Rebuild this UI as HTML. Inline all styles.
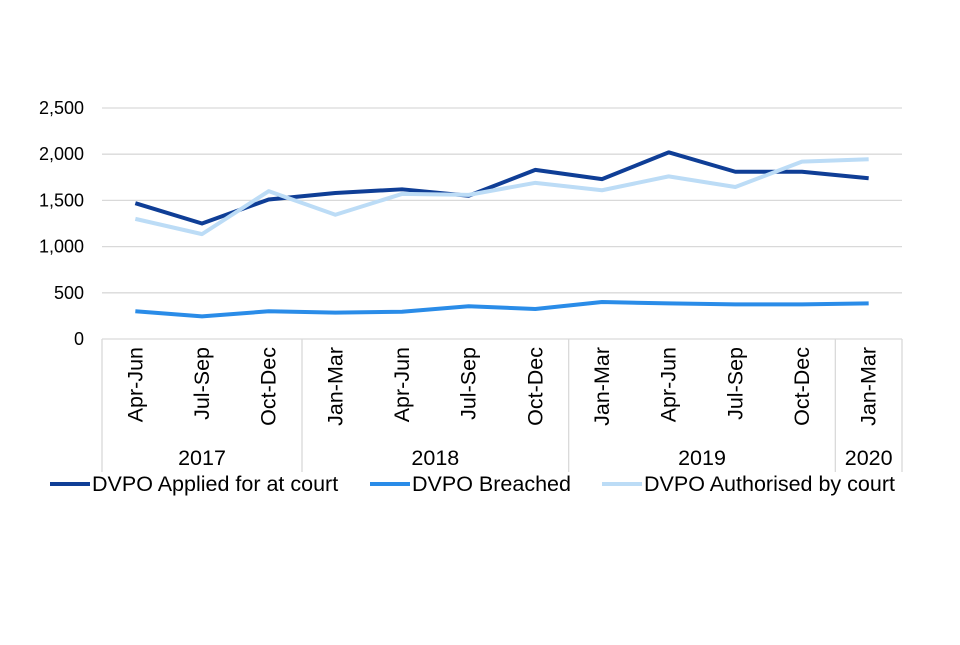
<!DOCTYPE html>
<html><head><meta charset="utf-8"><style>
body{margin:0;background:#fff}
svg text{font-family:"Liberation Sans",Arial,sans-serif;fill:#000}
</style></head><body>
<svg width="960" height="640" id="chart"></svg>
<script>
const categories=["Apr-Jun","Jul-Sep","Oct-Dec","Jan-Mar","Apr-Jun","Jul-Sep","Oct-Dec","Jan-Mar","Apr-Jun","Jul-Sep","Oct-Dec","Jan-Mar"];
const years=["2017","2018","2019","2020"];
const yearSpans=[3,4,4,1];
const appliedValues=[1470,1250,1510,1580,1620,1550,1830,1730,2020,1810,1810,1740];
const breachedValues=[300,245,300,285,295,355,325,400,385,375,375,385];
const authorisedValues=[1300,1135,1600,1345,1570,1560,1690,1610,1760,1645,1920,1945];
const yTicks=[0,500,1000,1500,2000,2500];
const yTickLabels=["0","500","1,000","1,500","2,000","2,500"];
const seriesNames=["DVPO Applied for at court","DVPO Breached","DVPO Authorised by court"];

const NS="http://www.w3.org/2000/svg";
const svg=document.getElementById('chart');
const X0=102,X1=902,Y0=339,YT=108,YMAX=2500;
const bw=(X1-X0)/categories.length;
const x=i=>X0+bw*(i+0.5);
const y=v=>Y0-(v/YMAX)*(Y0-YT);
function mk(t,a){const e=document.createElementNS(NS,t);for(const k in a)e.setAttribute(k,a[k]);svg.appendChild(e);return e;}

yTicks.forEach((t,i)=>{
  if(t>0){const g=mk('line',{x1:X0,x2:X1,y1:y(t),y2:y(t),stroke:'#d9d9d9','stroke-width':1.3});
  
  }
  const l=mk('text',{x:84,y:y(t)+6,'text-anchor':'end','font-size':18});
  l.textContent=yTickLabels[i];
  
  
});
const ax=mk('line',{x1:X0,x2:X1,y1:Y0,y2:Y0,stroke:'#d9d9d9','stroke-width':1.3});



categories.forEach((c,i)=>{
  const t=mk('text',{x:0,y:0,'text-anchor':'end','font-size':21.5,transform:`translate(${x(i)+7},347) rotate(-90)`});
  t.textContent=c;
  
  
});
let start=0;
const sep=v=>{const s=mk('line',{x1:v,x2:v,y1:Y0,y2:472,stroke:'#d9d9d9','stroke-width':1.3});
  
  };
sep(X0);
years.forEach((yr,j)=>{
  const end=start+yearSpans[j];
  const cx=X0+bw*(start+end)/2;
  const t=mk('text',{x:cx,y:465,'text-anchor':'middle','font-size':21.5});
  t.textContent=yr;
  
  
  sep(X0+bw*end);
  start=end;
});

const colors=['#0f3e96','#2a8ce8','#bcdcf6'];
[appliedValues,breachedValues,authorisedValues].forEach((vals,k)=>{
  const p=mk('polyline',{points:vals.map((v,i)=>x(i)+','+y(v)).join(' '),fill:'none',stroke:colors[k],'stroke-width':4,'stroke-linejoin':'round'});
  
  
});

const lx=[50,370,602];
seriesNames.forEach((n,k)=>{
  const l=mk('line',{x1:lx[k],x2:lx[k]+40,y1:484,y2:484,stroke:colors[k],'stroke-width':4});
  
  
  const t=mk('text',{x:lx[k]+42,y:491,'font-size':21.5});
  t.textContent=n;
  
  
});
</script>
</body></html>
